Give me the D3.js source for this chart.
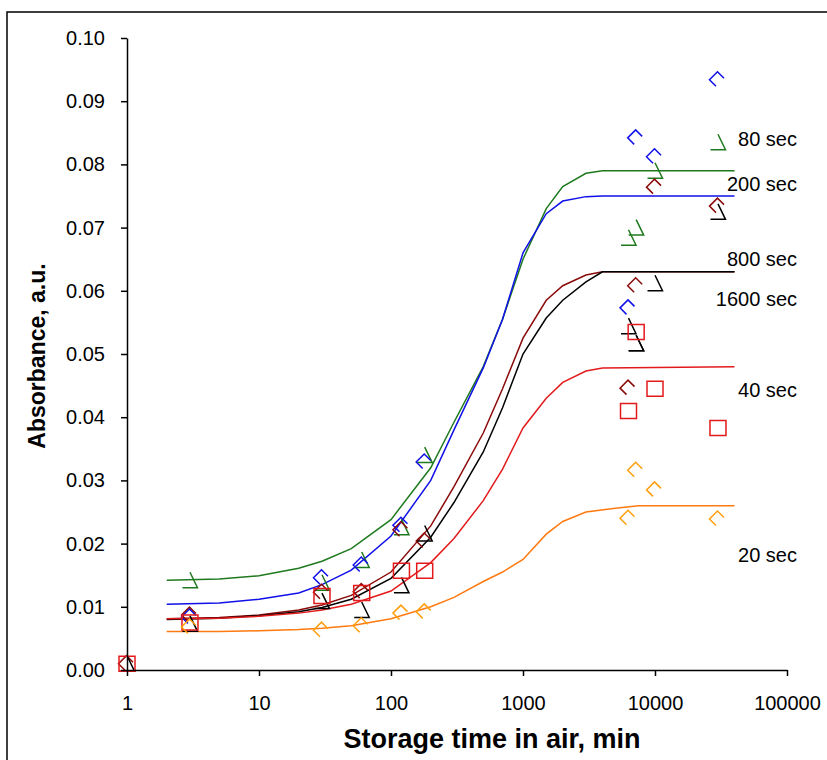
<!DOCTYPE html>
<html>
<head>
<meta charset="utf-8">
<script src="https://cdn.jsdelivr.net/npm/d3@7.9.0/dist/d3.min.js"></script>
<style>
  body { margin: 0; background: #fff; }
  svg { font-family: "Liberation Sans", Arial, sans-serif; }
</style>
</head>
<body>
<svg id="chart" width="827" height="760"></svg>
<script>
// measured storage times (min) for each group of markers
const measuredTimes = [1, 3, 30, 60, 120, 180, 6300, 7200, 10000, 30000];
// times at which the fitted curves are drawn
const fitTimes = [2, 5, 10, 20, 30, 50, 100, 200, 300, 500, 700, 1000, 1500, 2000, 3000, 4000, 40000];
const orangeFitTimes = [2, 5, 10, 20, 30, 50, 100, 200, 300, 500, 700, 1000, 1500, 2000, 3000, 5000, 7500, 40000];

// measured absorbance (null = no marker)
const abs80 = [null, 0.0142, 0.0138, 0.0174, 0.0226, 0.0340, 0.0684, 0.0700, 0.0790, 0.0835];
const abs200 = [null, 0.0084, 0.0146, 0.0166, 0.0229, 0.0329, 0.0573, 0.0842, 0.0812, 0.0934];
const abs800 = [0.001, 0.0087, 0.0123, 0.0124, 0.0222, 0.0204, 0.0446, 0.0608, 0.0764, 0.0734];
const abs1600 = [0.001, 0.0073, 0.0109, 0.0095, 0.0134, 0.0216, 0.0544, 0.0517, 0.0612, 0.0725];
const abs40 = [0.001, 0.0075, 0.0117, 0.0122, 0.0157, 0.0157, 0.0410, 0.0535, 0.0445, 0.0383];
const abs20 = [null, 0.0068, 0.0063, 0.0070, 0.0090, 0.0092, 0.0240, 0.0316, 0.0285, 0.0239];
// extra overlapping marker seen at 7200 min
const extra1600 = [[7200, 0.0517]];

// fitted curves
const fit80 = [0.0142, 0.0144, 0.0149, 0.0161, 0.0172, 0.0192, 0.0238, 0.0320, 0.0392, 0.0480, 0.0555, 0.0650, 0.0730, 0.0765, 0.0786, 0.0790, 0.0790];
const fit200 = [0.0104, 0.0106, 0.0112, 0.0122, 0.0135, 0.0158, 0.0212, 0.0300, 0.0380, 0.0478, 0.0555, 0.0660, 0.0722, 0.0742, 0.0749, 0.0750, 0.0750];
const fit800 = [0.0081, 0.0083, 0.0087, 0.0095, 0.0103, 0.0118, 0.0155, 0.0228, 0.0290, 0.0375, 0.0445, 0.0525, 0.0585, 0.0608, 0.0625, 0.0630, 0.0630];
const fit1600 = [0.0080, 0.0082, 0.0086, 0.0092, 0.0099, 0.0112, 0.0145, 0.0210, 0.0265, 0.0345, 0.0415, 0.0500, 0.0557, 0.0585, 0.0614, 0.0630, 0.0630];
const fit40 = [0.0081, 0.0082, 0.0085, 0.0090, 0.0095, 0.0104, 0.0125, 0.0170, 0.0208, 0.0268, 0.0318, 0.0383, 0.0430, 0.0455, 0.0473, 0.0478, 0.0480];
const fit20 = [0.0061, 0.0061, 0.0062, 0.0064, 0.0066, 0.0070, 0.0081, 0.0100, 0.0115, 0.0140, 0.0155, 0.0175, 0.0215, 0.0235, 0.0250, 0.0256, 0.0260, 0.0260];

const seriesNames = ['80 sec', '200 sec', '800 sec', '1600 sec', '40 sec', '20 sec'];
const yTicks = [0, 0.01, 0.02, 0.03, 0.04, 0.05, 0.06, 0.07, 0.08, 0.09, 0.10];
const xTicks = [1, 10, 100, 1000, 10000, 100000];

// series styling
const series = [
  { name: seriesNames[0], abs: abs80, fit: fit80, times: fitTimes, line: '#1f7a1f', marker: 'tri', labelY: 0.0840 },
  { name: seriesNames[1], abs: abs200, fit: fit200, times: fitTimes, line: '#1010e8', marker: 'dia', labelY: 0.0769 },
  { name: seriesNames[2], abs: abs800, fit: fit800, times: fitTimes, line: '#8b0a0a', marker: 'dia', labelY: 0.0650 },
  { name: seriesNames[3], abs: abs1600, fit: fit1600, times: fitTimes, line: '#000000', marker: 'tri', labelY: 0.0587 },
  { name: seriesNames[4], abs: abs40, fit: fit40, times: fitTimes, line: '#e31a1c', marker: 'sq', labelY: 0.0443 },
  { name: seriesNames[5], abs: abs20, fit: fit20, times: orangeFitTimes, line: '#ff7a10', marker: 'dia', markerColor: '#ff9f10', labelY: 0.0182 }
];

const svg = d3.select('#chart');

// outer frame
svg.append('rect')
  .attr('x', 7).attr('y', 12)
  .attr('width', 840).attr('height', 800)
  .attr('fill', 'none').attr('stroke', '#000').attr('stroke-width', 1.5);

const x = d3.scaleLog().domain([1, 100000]).range([127, 787]);
const y = d3.scaleLinear().domain([0, 0.1]).range([670, 38]);

// marker shapes
const shapes = {
  dia: 'M-2,6.5L-8.5,0L-0.5,-8L6,-1.5',
  tri: 'M0,-8L7.5,7.5L-7.5,7.5',
  sq: 'M-8,-7.5H8V7.5H-8Z'
};

// fitted curves
const line = d3.line().x(d => x(d[0])).y(d => y(d[1]));
series.forEach(s => {
  svg.append('path')
    .datum(s.times.map((t, i) => [t, s.fit[i]]))
    .attr('d', line)
    .attr('fill', 'none')
    .attr('stroke', s.line)
    .attr('stroke-width', 1.5);
});

// markers
series.forEach(s => {
  let pts = measuredTimes.map((t, i) => [t, s.abs[i]]).filter(d => d[1] !== null);
  if (s.name === '1600 sec') pts = pts.concat(extra1600);
  svg.selectAll(null)
    .data(pts)
    .enter()
    .append('path')
    .attr('transform', d => `translate(${x(d[0])},${y(d[1])})`)
    .attr('d', shapes[s.marker])
    .attr('fill', 'none')
    .attr('stroke', s.markerColor || s.line)
    .attr('stroke-width', 1.5);
});

// labels
svg.selectAll('.lab')
  .data(series)
  .enter()
  .append('text')
  .attr('class', 'lab')
  .attr('x', 797)
  .attr('y', d => y(d.labelY))
  .attr('dy', '0.35em')
  .attr('text-anchor', 'end')
  .attr('font-size', 20)
  .text(d => d.name);

// axes
const yAxis = d3.axisLeft(y).tickValues(yTicks).tickFormat(d3.format('.2f')).tickSize(6).tickSizeOuter(0).tickPadding(16);
const gy = svg.append('g').attr('transform', 'translate(127,0)').call(yAxis);
gy.selectAll('text').attr('font-size', 20).attr('fill', '#000');

const xAxis = d3.axisBottom(x).tickValues(xTicks).tickFormat(d3.format('d')).tickSize(6).tickSizeOuter(0).tickPadding(20);
const gx = svg.append('g').attr('transform', 'translate(0,670)').call(xAxis);
gx.selectAll('text').attr('font-size', 20).attr('fill', '#000');

[gx, gy].forEach(g => {
  g.select('.domain').attr('stroke', '#000').attr('stroke-width', 1.5);
  g.selectAll('.tick line').attr('stroke', '#000').attr('stroke-width', 1.5);
});

// titles
svg.append('text')
  .attr('x', 492).attr('y', 748)
  .attr('text-anchor', 'middle')
  .attr('font-size', 27).attr('font-weight', 'bold')
  .text('Storage time in air, min');

svg.append('text')
  .attr('transform', 'translate(45,356) rotate(-90)')
  .attr('text-anchor', 'middle')
  .attr('font-size', 23).attr('font-weight', 'bold')
  .text('Absorbance, a.u.');
</script>
</body>
</html>
